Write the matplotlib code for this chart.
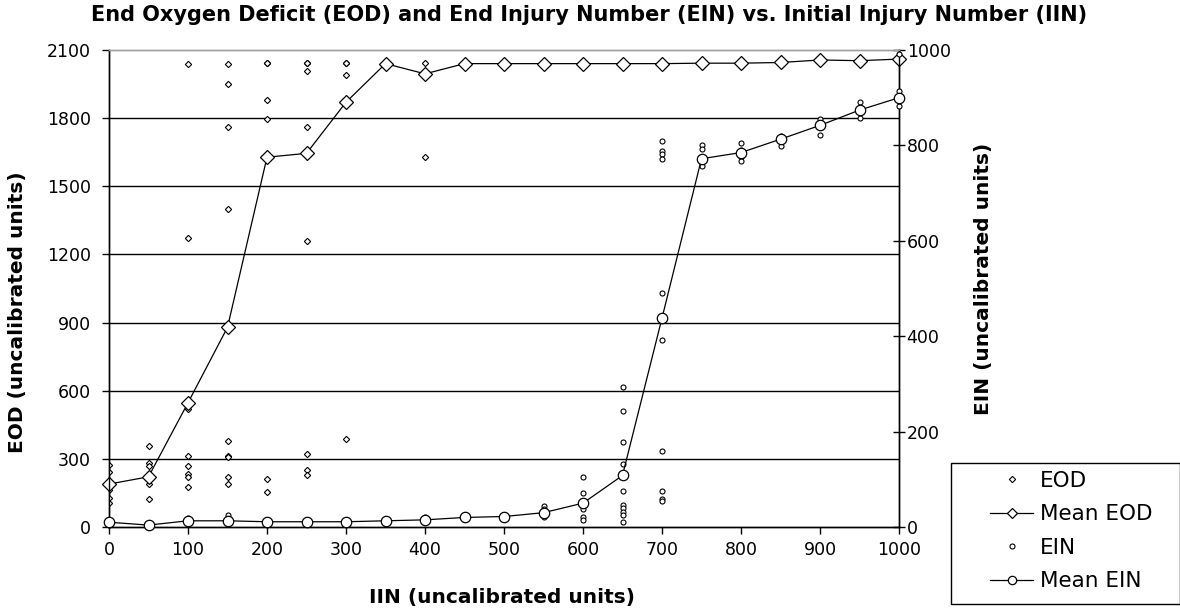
import matplotlib
matplotlib.use("Agg")
import matplotlib.pyplot as plt
from matplotlib.lines import Line2D
from matplotlib.patches import Rectangle

plt.rcParams['font.family'] = ['DejaVu Sans']

iin = [0, 50, 100, 150, 200, 250, 300, 350, 400, 450, 500,
       550, 600, 650, 700, 750, 800, 850, 900, 950, 1000]

eod_points = {
    0: [273, 243, 200, 163, 126, 107],
    50: [358, 282, 270, 205, 190, 125],
    100: [2040, 1271, 520, 313, 269, 233, 221, 178],
    150: [2040, 1952, 1763, 1400, 379, 313, 307, 221, 189],
    200: [2042, 2042, 1880, 1796, 210, 155],
    250: [2042, 2042, 2009, 1763, 1259, 320, 251, 229],
    300: [2042, 2042, 1990, 386],
    350: [2042],
    400: [2042, 1628],
    450: [2042], 500: [2042], 550: [2042], 600: [2042], 650: [2042],
    700: [2042], 750: [2042], 800: [2042], 850: [2045],
    900: [2060, 2052], 950: [2062, 2050], 1000: [2068, 2058],
}
mean_eod = [189, 221, 547, 879, 1628, 1645, 1870, 2040, 1995, 2040, 2040,
            2040, 2040, 2040, 2040, 2042, 2042, 2045, 2056, 2053, 2060]

ein_points = {
    0: [10, 5], 50: [4, 8], 100: [13, 18], 150: [25, 13], 200: [11, 15],
    250: [11, 14], 300: [11, 14], 350: [13, 16], 400: [15, 20],
    450: [20, 25], 500: [22, 26],
    550: [45, 38, 25, 20],
    600: [104, 71, 48, 37, 22, 15],
    650: [293, 244, 178, 132, 76, 46, 39, 32, 25, 11],
    700: [809, 788, 781, 772, 491, 393, 160, 76, 59, 55],
    750: [800, 792, 772, 757],
    800: [806, 790, 775, 767],
    850: [820, 810, 799],
    900: [855, 842, 821],
    950: [890, 874, 858],
    1000: [992, 914, 900, 883],
}
mean_ein = [10, 4, 13, 13, 11, 11, 11, 13, 15, 20, 22,
            30, 50, 108, 438, 772, 785, 813, 842, 874, 900]

eod_ticks = [0, 300, 600, 900, 1200, 1500, 1800, 2100]
ein_ticks = [0, 200, 400, 600, 800, 1000]
iin_ticks = [0, 100, 200, 300, 400, 500, 600, 700, 800, 900, 1000]

title = "End Oxygen Deficit (EOD) and End Injury Number (EIN) vs. Initial Injury Number (IIN)"

W, H = 1180, 611
fig = plt.figure(figsize=(W / 100, H / 100), dpi=100)
L, R, T, B = 109, 899, 50, 527
ax = fig.add_axes([L / W, 1 - B / H, (R - L) / W, (B - T) / H])
ax2 = ax.twinx()

ex, ey = [], []
for k, v in eod_points.items():
    ex += [k] * len(v)
    ey += v
ax.plot(ex, ey, ls='none', marker='D', ms=3.2, mfc='white', mec='black', mew=0.8, zorder=3)
ax.plot(iin, mean_eod, color='black', lw=0.9, marker='D', ms=7.5, mfc='white',
        mec='black', mew=0.9, zorder=4, clip_on=False)

nx, ny = [], []
for k, v in ein_points.items():
    nx += [k] * len(v)
    ny += v
ax2.plot(nx, ny, ls='none', marker='o', ms=3.6, mfc='white', mec='black', mew=0.8, zorder=3,
         clip_on=False)
ax2.plot(iin, mean_ein, color='black', lw=0.9, marker='o', ms=7.5, mfc='white',
         mec='black', mew=0.9, zorder=4, clip_on=False)

ax.set_xlim(0, 1000)
ax.set_ylim(0, 2100)
ax2.set_ylim(0, 1000)
ax.set_xticks(iin_ticks)
ax.set_yticks(eod_ticks)
ax2.set_yticks(ein_ticks)

for y in eod_ticks[1:-1]:
    ax.axhline(y, color='black', lw=1.0, zorder=1)

ax.spines['top'].set_color('#a0a0a0')
ax2.spines['top'].set_color('#a0a0a0')
for a in (ax, ax2):
    for s in a.spines.values():
        s.set_linewidth(1.0)

ax.tick_params(axis='y', direction='out', length=5, width=1, labelsize=12.5, pad=8)
ax.tick_params(axis='x', direction='out', length=5, width=1, labelsize=12.5, pad=5)
ax2.tick_params(axis='y', direction='inout', length=9, width=1, labelsize=12.5, pad=1)

fig.text(589 / W, 1 - 15 / H, title, ha='center', va='center', fontsize=15, fontweight='bold')
fig.text(502 / W, 1 - 598 / H, "IIN (uncalibrated units)", ha='center', va='center',
         fontsize=14.5, fontweight='bold')
fig.text(18 / W, 1 - 312 / H, "EOD (uncalibrated units)", ha='center', va='center',
         fontsize=14.5, fontweight='bold', rotation=90)
fig.text(983 / W, 1 - 279 / H, "EIN (uncalibrated units)", ha='center', va='center',
         fontsize=14.5, fontweight='bold', rotation=90)

# legend frame
fig.patches.append(Rectangle((951 / W, 1 - 604 / H), (1180 - 951) / W, (604 - 463) / H,
                             transform=fig.transFigure, facecolor='white',
                             edgecolor='black', lw=1.0, zorder=5))

handles = [
    Line2D([], [], ls='none', marker='D', ms=3.2, mfc='white', mec='black', mew=0.8),
    Line2D([], [], color='black', lw=0.9, marker='D', ms=5.5, mfc='white', mec='black', mew=0.9),
    Line2D([], [], ls='none', marker='o', ms=3.6, mfc='white', mec='black', mew=0.8),
    Line2D([], [], color='black', lw=0.9, marker='o', ms=6, mfc='white', mec='black', mew=0.9),
]
labels = ["EOD", "Mean EOD", "EIN", "Mean EIN"]
leg = fig.legend(handles, labels, loc='upper left',
                 bbox_to_anchor=(990 / W, 1 - 471 / H),
                 fontsize=15.5, frameon=False, handlelength=2.0, handletextpad=0.3,
                 borderpad=0, labelspacing=0.62, borderaxespad=0)
leg.set_zorder(6)

fig.savefig("out.png", dpi=100)
